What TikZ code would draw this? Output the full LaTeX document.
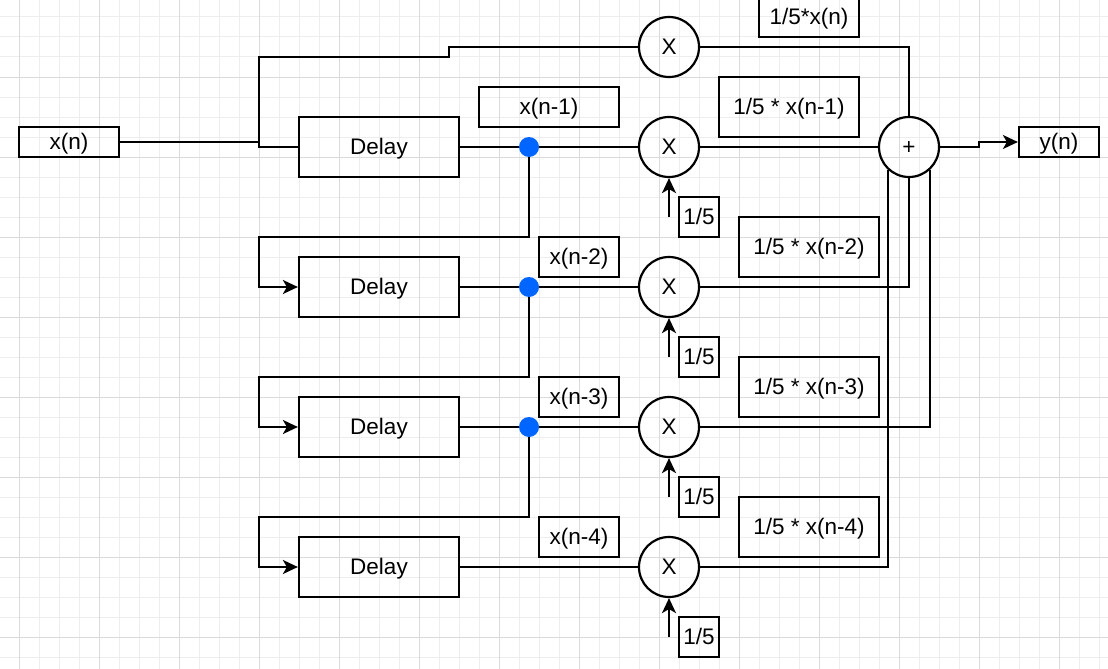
\documentclass[tikz,border=0pt]{standalone}
\usepackage{fontspec}
\setmainfont{Liberation Sans}
\usetikzlibrary{arrows.meta,calc}
\definecolor{gridminor}{RGB}{237,237,237}
\definecolor{gridmajor}{RGB}{218,218,218}
\definecolor{dotblue}{RGB}{0,102,255}
\newcommand\dgfont{\fontsize{22.5}{26}\selectfont}
\tikzset{
  blk/.style={draw=black, line width=2.2pt, inner sep=0pt, font=\dgfont, rectangle, text height=20pt, text depth=5pt},
  mult/.style={circle, draw=black, line width=2.2pt, minimum size=60pt, inner sep=0pt, font=\dgfont, text height=20pt, text depth=5pt},
  wire/.style={line width=2.2pt, black},
  arr/.style={wire, -{Stealth[length=15pt,width=14pt,inset=4pt]}},
  junct/.style={circle, fill=dotblue, minimum size=20pt, inner sep=0pt},
  gminor/.style={gridminor, line width=1pt},
  gmajor/.style={gridmajor, line width=1pt}
}
\begin{document}
\begin{tikzpicture}[x=1pt,y=-1pt]
\useasboundingbox (0,0) rectangle (1108,669);
% grid
\foreach \x in {19,39,...,1107} \draw[gminor] (\x,0) -- (\x,669);
\foreach \y in {17,37,...,669} \draw[gminor] (0,\y) -- (1108,\y);
\foreach \x in {19,99,...,1107} \draw[gmajor] (\x,0) -- (\x,669);
\foreach \y in {77,157,...,669} \draw[gmajor] (0,\y) -- (1108,\y);

% input / output
\node[blk, minimum width=100pt, minimum height=30pt] (xin) at (69,142) {x(n)};
\node[blk, minimum width=80pt, minimum height=30pt] (yout) at (1059,142) {y(n)};

% delays
\node[blk, minimum width=160pt, minimum height=60pt] (d1) at (379,147) {Delay};
\node[blk, minimum width=160pt, minimum height=60pt] (d2) at (379,287) {Delay};
\node[blk, minimum width=160pt, minimum height=60pt] (d3) at (379,427) {Delay};
\node[blk, minimum width=160pt, minimum height=60pt] (d4) at (379,567) {Delay};

% multipliers and sum
\node[mult] (m0) at (669,47) {X};
\node[mult] (m1) at (669,147) {X};
\node[mult] (m2) at (669,287) {X};
\node[mult] (m3) at (669,427) {X};
\node[mult] (m4) at (669,567) {X};
\node[mult] (sum) at (909,147) {+};

% signal labels
\node[blk, minimum width=140pt, minimum height=40pt] (lx1) at (549,107) {x(n-1)};
\node[blk, minimum width=80pt, minimum height=40pt] (lx2) at (579,257) {x(n-2)};
\node[blk, minimum width=80pt, minimum height=40pt] (lx3) at (579,397) {x(n-3)};
\node[blk, minimum width=80pt, minimum height=40pt] (lx4) at (579,537) {x(n-4)};

\node[blk, minimum width=100pt, minimum height=40pt] (lr0) at (809,17) {1/5*x(n)};
\node[blk, minimum width=140pt, minimum height=60pt] (lr1) at (789,107) {1/5 * x(n-1)};
\node[blk, minimum width=140pt, minimum height=60pt] (lr2) at (809,247) {1/5 * x(n-2)};
\node[blk, minimum width=140pt, minimum height=60pt] (lr3) at (809,387) {1/5 * x(n-3)};
\node[blk, minimum width=140pt, minimum height=60pt] (lr4) at (809,527) {1/5 * x(n-4)};

% coefficient boxes
\node[blk, minimum width=40pt, minimum height=40pt] (c1) at (699,217) {1/5};
\node[blk, minimum width=40pt, minimum height=40pt] (c2) at (699,357) {1/5};
\node[blk, minimum width=40pt, minimum height=40pt] (c3) at (699,497) {1/5};
\node[blk, minimum width=40pt, minimum height=40pt] (c4) at (699,637) {1/5};

% coefficient arrows
\coordinate (a1) at (669,217);
\coordinate (a2) at (669,357);
\coordinate (a3) at (669,497);
\coordinate (a4) at (669,637);
\draw[arr] (a1) -- (m1.south);
\draw[arr] (a2) -- (m2.south);
\draw[arr] (a3) -- (m3.south);
\draw[arr] (a4) -- (m4.south);

% input wiring
\draw[wire] (xin.east) -| (259,147) -- (d1.west);
\draw[wire] (xin.east) -- (259,142) |- (449,57) |- (m0.west);

% delay outputs to multipliers
\draw[wire] (d1.east) -- (m1.west);
\draw[wire] (d2.east) -- (m2.west);
\draw[wire] (d3.east) -- (m3.west);
\draw[wire] (d4.east) -- (m4.west);

% junctions
\coordinate (p1) at (529,147);
\coordinate (p2) at (529,287);
\coordinate (p3) at (529,427);
\draw[arr] (p1) |- (259,237) |- (d2.west);
\draw[arr] (p2) |- (259,377) |- (d3.west);
\draw[arr] (p3) |- (259,517) |- (d4.west);
\node[junct] (j1) at (p1) {};
\node[junct] (j2) at (p2) {};
\node[junct] (j3) at (p3) {};

% products to sum
\draw[wire] (m0.east) -| (sum.north);
\draw[wire] (m1.east) -- (sum.west);
\draw[wire] (m2.east) -| (sum.south);
\draw[wire] (m3.east) -| (sum.-47.5);
\draw[wire] (m4.east) -| (sum.-132.5);

% output
\draw[arr] (sum.east) -- (979,147) |- (yout.west);
\end{tikzpicture}
\end{document}
